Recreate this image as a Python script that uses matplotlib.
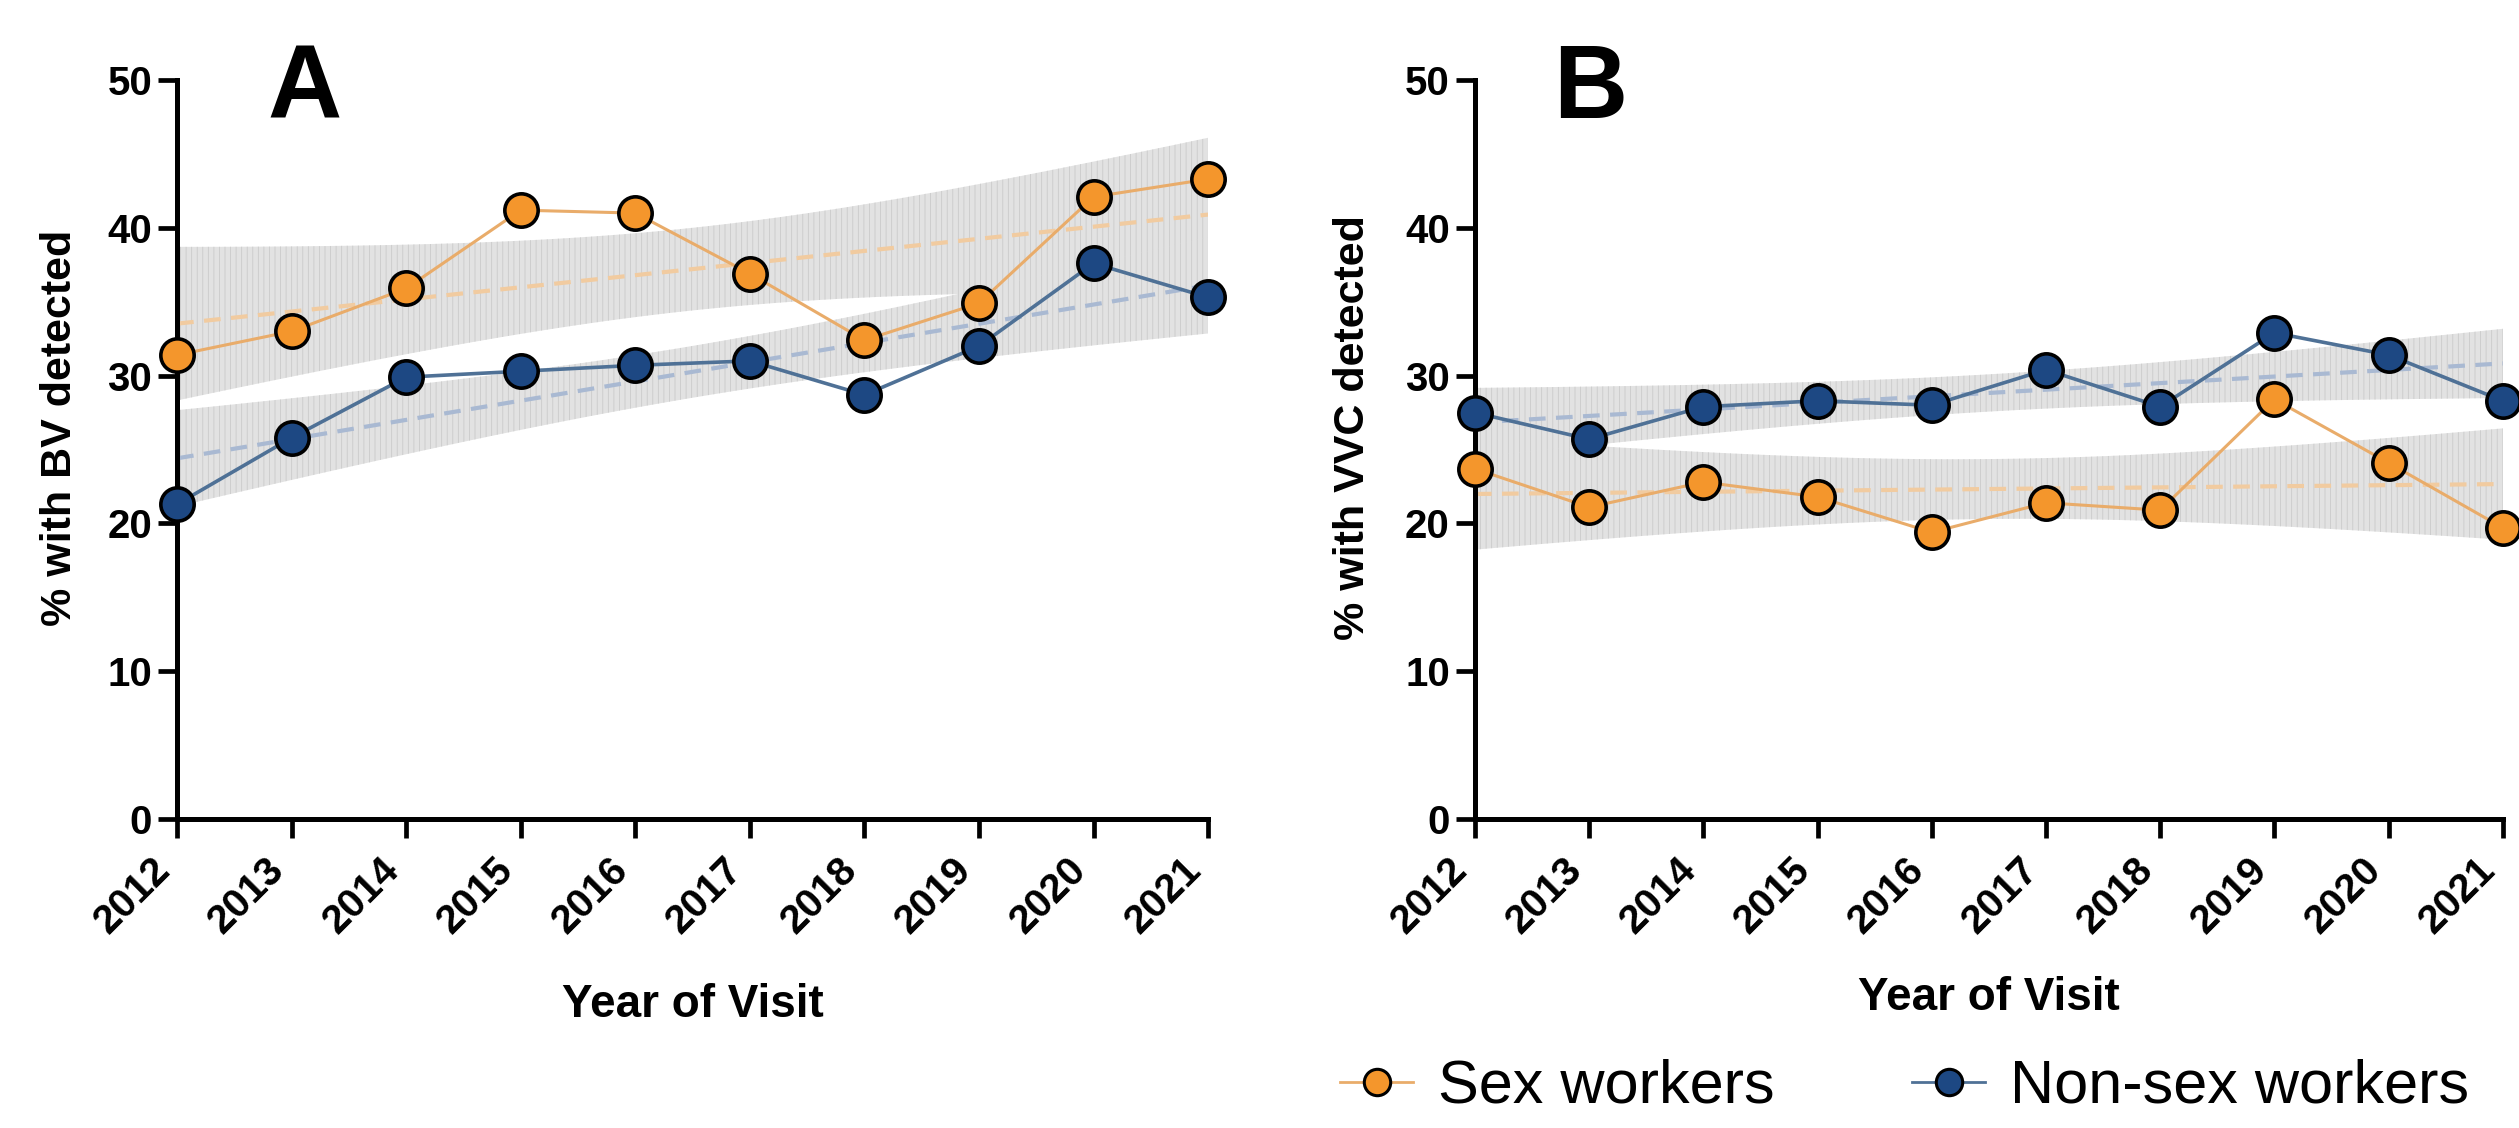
import numpy as np
import matplotlib
matplotlib.use("Agg")
import matplotlib.pyplot as plt
from matplotlib.lines import Line2D
from matplotlib.transforms import ScaledTranslation

# --- data ---------------------------------------------------------------
years = [2012, 2013, 2014, 2015, 2016, 2017, 2018, 2019, 2020, 2021]

bv_sex = [31.4, 33.0, 35.9, 41.2, 41.0, 36.9, 32.4, 34.9, 42.1, 43.3]
bv_nonsex = [21.3, 25.8, 29.9, 30.3, 30.7, 31.0, 28.7, 32.0, 37.6, 35.3]

vvc_sex = [23.7, 21.1, 22.8, 21.8, 19.4, 21.4, 20.9, 28.4, 24.1, 19.7]
vvc_nonsex = [27.5, 25.7, 27.9, 28.3, 28.0, 30.4, 27.9, 32.9, 31.4, 28.3]

yticks = [0, 10, 20, 30, 40, 50]
group_labels = ["Sex workers", "Non-sex workers"]

# --- styling -------------------------------------------------------------
ORANGE = "#f4962c"
ORANGE_LINE = "#e9ac6a"
ORANGE_TREND = "#f1cba0"
BLUE = "#1d4883"
BLUE_LINE = "#4f7196"
BLUE_TREND = "#a9b9d2"
BAND_FACE = "#e2e2e2"
BAND_HATCH = "#cacaca"
T_CRIT = 2.306  # t(0.975, df=8)

plt.rcParams["font.family"] = ["Liberation Sans", "DejaVu Sans"]
plt.rcParams["hatch.linewidth"] = 0.6


def fit_band(x, y, grid):
    """Linear fit and 95% confidence band of the fitted line."""
    x = np.asarray(x, float)
    y = np.asarray(y, float)
    slope, icpt = np.polyfit(x, y, 1)
    resid = y - (slope * x + icpt)
    n = len(x)
    s = np.sqrt(np.sum(resid ** 2) / (n - 2))
    sxx = np.sum((x - x.mean()) ** 2)
    se = s * np.sqrt(1.0 / n + (grid - x.mean()) ** 2 / sxx)
    fit = slope * grid + icpt
    return fit, fit - T_CRIT * se, fit + T_CRIT * se


def draw_panel(ax, sex, nonsex, ylabel, letter, letter_x, ylab_x, xlab_y):
    grid = np.linspace(years[0], years[-1], 200)
    fits = []
    for vals in (sex, nonsex):
        fit, lo, hi = fit_band(years, vals, grid)
        fits.append(fit)
        ax.fill_between(grid, lo, hi, facecolor=BAND_FACE, edgecolor=BAND_HATCH,
                        hatch="|||", linewidth=0, zorder=1)
    ax.plot(grid, fits[0], color=ORANGE_TREND, lw=3, ls=(0, (4, 2.5)), zorder=2)
    ax.plot(grid, fits[1], color=BLUE_TREND, lw=3, ls=(0, (4, 2.5)), zorder=2)

    ax.plot(years, sex, color=ORANGE_LINE, lw=2.2, zorder=3)
    ax.plot(years, nonsex, color=BLUE_LINE, lw=2.6, zorder=3)
    ax.plot(years, sex, ls="none", marker="o", ms=24, mfc=ORANGE, mec="black",
            mew=2.6, zorder=5, clip_on=False)
    ax.plot(years, nonsex, ls="none", marker="o", ms=24, mfc=BLUE, mec="black",
            mew=2.6, zorder=5, clip_on=False)

    ax.set_xlim(years[0], years[-1])
    ax.set_ylim(yticks[0], yticks[-1])
    ax.set_xticks(years)
    ax.set_yticks(yticks)
    ax.set_xticklabels([str(y) for y in years], rotation=45, ha="right")
    shift = ScaledTranslation(0.06, 0, ax.figure.dpi_scale_trans)
    for lab in ax.get_xticklabels():
        lab.set_transform(lab.get_transform() + shift)
    for lab in ax.get_xticklabels() + ax.get_yticklabels():
        lab.set_fontweight("bold")
        lab.set_fontsize(29)

    for side in ("top", "right"):
        ax.spines[side].set_visible(False)
    for side in ("left", "bottom"):
        ax.spines[side].set_linewidth(3.6)
    ax.tick_params(axis="both", direction="out", length=14, width=3.4,
                   color="black")
    ax.tick_params(axis="x", pad=9)
    ax.tick_params(axis="y", pad=4)

    ax.set_ylabel(ylabel, fontsize=31, fontweight="bold")
    ax.yaxis.set_label_coords(ylab_x, 0.53)
    ax.set_xlabel("Year of Visit", fontsize=33, fontweight="bold")
    ax.xaxis.set_label_coords(0.5, xlab_y)

    ax.text(letter_x, 0.985, letter, transform=ax.transAxes, fontsize=74,
            fontweight="bold", ha="center", va="center")


fig = plt.figure(figsize=(25.19, 11.28), dpi=100)
ax_a = fig.add_axes([0.0703, 0.2739, 0.4093, 0.6551])
ax_b = fig.add_axes([0.5855, 0.2739, 0.4081, 0.6551])

draw_panel(ax_a, bv_sex, bv_nonsex, "% with BV detected", "A", 0.124, -0.094, -0.222)
draw_panel(ax_b, vvc_sex, vvc_nonsex, "% with VVC detected", "B", 0.112, -0.099, -0.212)

handles = [
    Line2D([], [], color=ORANGE_LINE, lw=2, marker="o", ms=19, mfc=ORANGE,
           mec="black", mew=2.2),
    Line2D([], [], color=BLUE_LINE, lw=2, marker="o", ms=19, mfc=BLUE,
           mec="black", mew=2.2),
]
fig.legend(handles, group_labels, loc="center left",
           bbox_to_anchor=(0.532, 0.036), ncol=2, frameon=False, fontsize=44,
           borderpad=0, borderaxespad=0, handlelength=1.2, handletextpad=0.4,
           columnspacing=2.25)

fig.savefig("out.png", dpi=100)
